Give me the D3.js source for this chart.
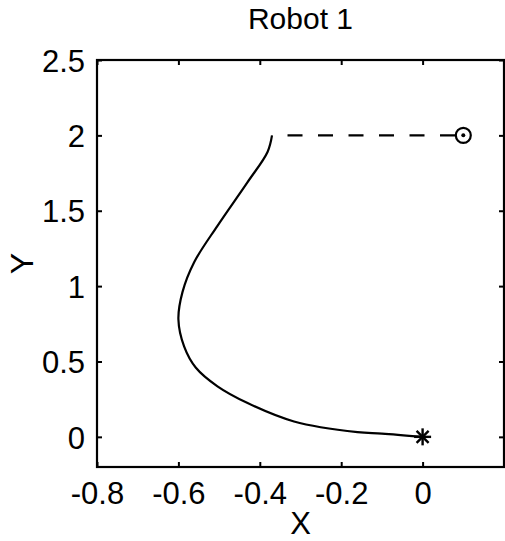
<!DOCTYPE html>
<html><head><meta charset="utf-8">
<script src="https://cdn.jsdelivr.net/npm/d3@7"></script>
<style>body{margin:0;background:#fff}text{font-family:"Liberation Sans",Arial,Helvetica,sans-serif;fill:#000}</style>
</head><body><svg id="c" width="505" height="541"></svg>
<script>
const title = "Robot 1";
const xLabel = "X";
const yLabel = "Y";
const xDomain = [-0.8, 0.2];
const yDomain = [-0.2, 2.5];
const xTicks = [-0.8, -0.6, -0.4, -0.2, 0];
const yTicks = [0, 0.5, 1, 1.5, 2, 2.5];
const yTickLabels = ["0", "0.5", "1", "1.5", "2", "2.5"];
const xTickLabels = ["-0.8", "-0.6", "-0.4", "-0.2", "0"];
// trajectory (X, Y) from top end down to start
const trajX = [-0.37, -0.381, -0.43, -0.504, -0.561, -0.59, -0.6, -0.586, -0.557, -0.504, -0.43, -0.316, -0.16, -0.1, 0];
const trajY = [2.0, 1.89, 1.69, 1.40, 1.16, 0.96, 0.78, 0.60, 0.458, 0.335, 0.224, 0.102, 0.031, 0.022, 0];
const startPt = [0, 0];
const goalPt = [0.1, 2];

const svg = d3.select("#c");
const L = 97, R = 504, T = 60, B = 467;
const x = d3.scaleLinear().domain(xDomain).range([L, R]);
const y = d3.scaleLinear().domain(yDomain).range([B, T]);

// box
svg.append("rect").attr("x", L).attr("y", T).attr("width", R - L).attr("height", B - T)
  .attr("fill", "none").attr("stroke", "#000").attr("stroke-width", 2.2);

const tl = 5;
const gb = svg.append("g").attr("transform", `translate(0,${B})`)
  .call(d3.axisBottom(x).tickValues(xTicks).tickSize(-tl).tickPadding(15).tickFormat((d, i) => xTickLabels[i]));
const gt = svg.append("g").attr("transform", `translate(0,${T})`)
  .call(d3.axisTop(x).tickValues(xTicks).tickSize(-tl).tickFormat(""));
const gl = svg.append("g").attr("transform", `translate(${L},0)`)
  .call(d3.axisLeft(y).tickValues(yTicks).tickSize(-tl).tickPadding(12).tickFormat((d, i) => yTickLabels[i]));
const gr = svg.append("g").attr("transform", `translate(${R},0)`)
  .call(d3.axisRight(y).tickValues(yTicks).tickSize(-tl).tickFormat(""));
[gb, gt, gl, gr].forEach(g => {
  g.select(".domain").remove();
  g.selectAll(".tick line").attr("stroke", "#000").attr("stroke-width", 2);
  g.selectAll("text").attr("font-size", 31).attr("font-family", '"Liberation Sans",Arial,sans-serif');
});
gl.selectAll("text").attr("dy", "0.36em");
gb.selectAll("text").attr("dy", "0.72em");

// trajectory
const pts = trajX.map((v, i) => [v, trajY[i]]);
svg.append("path").datum(pts)
  .attr("d", d3.line().x(d => x(d[0])).y(d => y(d[1])).curve(d3.curveCatmullRom))
  .attr("fill", "none").attr("stroke", "#000").attr("stroke-width", 2.2);

// dashed line to goal
svg.append("line").attr("x1", x(trajX[0])).attr("y1", y(trajY[0]))
  .attr("x2", x(goalPt[0])).attr("y2", y(goalPt[1]))
  .attr("stroke", "#000").attr("stroke-width", 2.2)
  .attr("stroke-dasharray", "15,15.5").attr("stroke-dashoffset", 15);

// goal marker
svg.append("circle").attr("cx", x(goalPt[0])).attr("cy", y(goalPt[1])).attr("r", 7.5)
  .attr("fill", "#fff").attr("stroke", "#000").attr("stroke-width", 2.2);
svg.append("circle").attr("cx", x(goalPt[0])).attr("cy", y(goalPt[1])).attr("r", 2).attr("fill", "#000");

// start marker (asterisk)
const sx = x(startPt[0]), sy = y(startPt[1]);
[0, 45, 90, 135].forEach(a => {
  const r = a * Math.PI / 180, h = 8.5;
  svg.append("line").attr("x1", sx - h * Math.cos(r)).attr("y1", sy - h * Math.sin(r))
    .attr("x2", sx + h * Math.cos(r)).attr("y2", sy + h * Math.sin(r))
    .attr("stroke", "#000").attr("stroke-width", 2.4);
});

// title and labels
svg.append("text").attr("x", (L + R) / 2).attr("y", 29).attr("text-anchor", "middle")
  .attr("font-size", 30).text(title);
svg.append("text").attr("x", (L + R) / 2).attr("y", 534).attr("text-anchor", "middle")
  .attr("font-size", 31).text(xLabel);
svg.append("text").attr("transform", `translate(33,${(T + B) / 2}) rotate(-90)`).attr("text-anchor", "middle")
  .attr("font-size", 32).text(yLabel);
</script></body></html>
